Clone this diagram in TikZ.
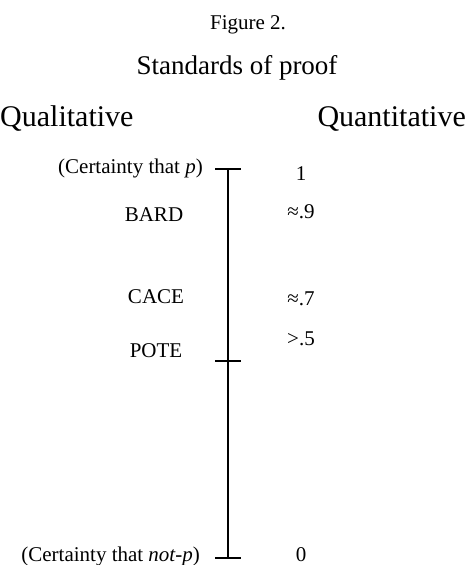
\documentclass[tikz,border=0pt]{standalone}
\usepackage{fontspec}
\setmainfont{Liberation Serif}

\begin{document}
\begin{tikzpicture}[x=1pt,y=-1pt,
  lbl/.style={inner sep=0pt,anchor=base,font=\fontsize{21}{25}\selectfont},
  head/.style={inner sep=0pt,font=\fontsize{30}{36}\selectfont},
  scale line/.style={line width=1.3pt}]
 \path[use as bounding box] (0,0) rectangle (466,565);
 \node[lbl] (fig) at (248,29) {Figure 2.};
 \node[lbl,font=\fontsize{27}{32}\selectfont] (title) at (237,74) {Standards of proof};
 \node[head,anchor=base west] (qual) at (0,126) {Qualitative};
 \node[head,anchor=base east] (quant) at (466,126) {Quantitative};
 \coordinate (top) at (228,169);
 \coordinate (half) at (228,361);
 \coordinate (bot) at (228,558);
 \draw[scale line] (top) -- (bot);
 \foreach \c in {top,half,bot}{\draw[scale line] ([xshift=-13pt]\c) -- ([xshift=13pt]\c);}
 \node[lbl,anchor=base east] (certp) at (203,173) {(Certainty that \textit{p})};
 \node[lbl] (bard) at (154,221) {BARD};
 \node[lbl] (cace) at (156,303) {CACE};
 \node[lbl] (pote) at (156,357) {POTE};
 \node[lbl,anchor=base east] (certnotp) at (200,561) {(Certainty that \textit{not-p})};
 \node[lbl] (one) at (301,180) {1};
 \node[lbl] (nine) at (301,218) {≈.9};
 \node[lbl] (seven) at (301,305) {≈.7};
 \node[lbl] (five) at (301,345) {>.5};
 \node[lbl] (zero) at (301,561) {0};
\end{tikzpicture}
\end{document}
